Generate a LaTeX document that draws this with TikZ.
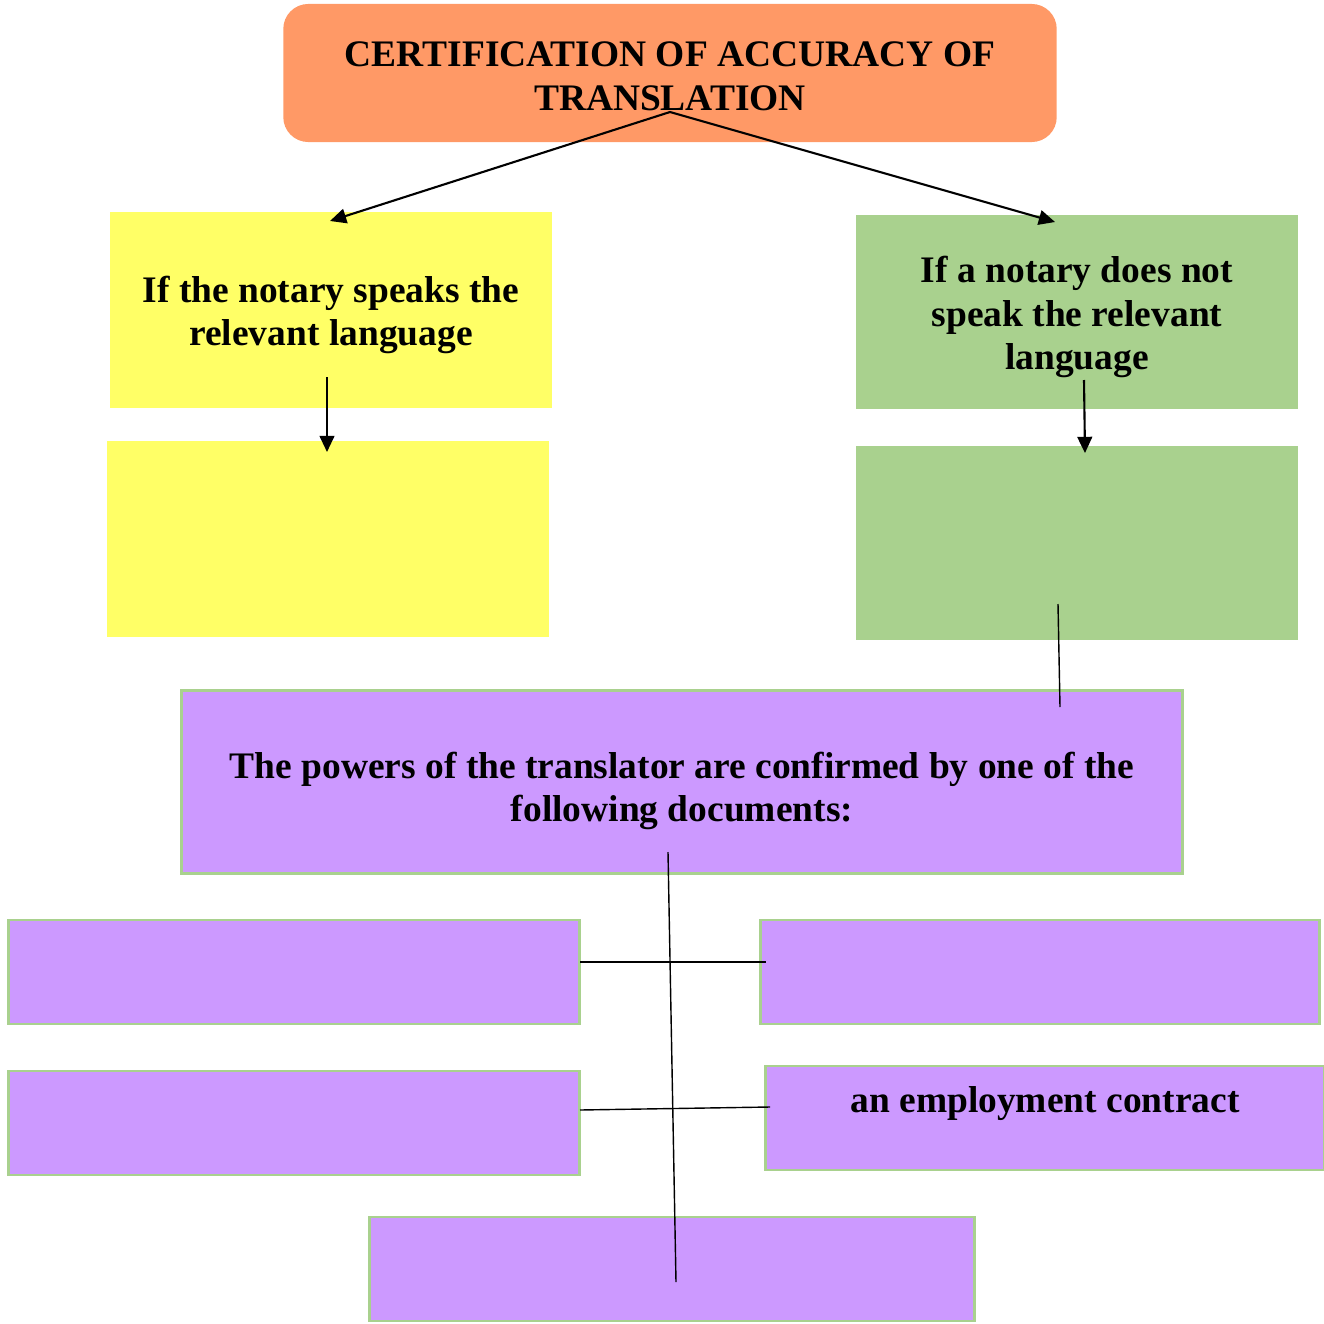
\documentclass[tikz,border=0pt]{standalone}
\usepackage{fontspec}
\setmainfont{Liberation Serif}
\usetikzlibrary{arrows.meta}
\definecolor{orangefill}{RGB}{255,153,102}
\definecolor{yellowfill}{RGB}{255,255,102}
\definecolor{greenfill}{RGB}{169,209,142}
\definecolor{purplefill}{RGB}{204,153,255}
\begin{document}
\begin{tikzpicture}[x=0.01cm, y=-0.01cm,
		txt/.style = {font=\fontsize{10.65}{12.4}\selectfont\bfseries, align=center, inner sep=0pt},
		head/.style = {txt, fill=orangefill, rounded corners=0.25cm, minimum width=7.73cm, minimum height=1.38cm},
		yel/.style = {txt, fill=yellowfill, minimum width=4.41cm, minimum height=1.95cm},
		grn/.style = {txt, fill=greenfill, minimum width=4.41cm, minimum height=1.94cm},
		pur/.style = {txt, fill=purplefill, draw=greenfill, line width=0.8pt, outer sep=0pt},
		arr/.style = {line width=0.6pt, -{Triangle[length=4.6pt, width=4.2pt]}},
		ln/.style = {line width=0.4pt}]
	\useasboundingbox (0,0) rectangle (1324,1324);
	% heading and the two cases
	\node[head, label={[txt, yshift=-0.03cm]center:{CERTIFICATION OF ACCURACY OF\\TRANSLATION}}] (title) at (670,73) {};
	\node[yel, label={[txt, yshift=-0.05cm]center:{If the notary speaks the\\relevant language}}] (y1) at (331,310) {};
	\node[yel] (y2) at (328,539) {};
	\node[grn, label={[txt, yshift=-0.05cm]center:{If a notary does not\\speak the relevant\\language}}] (g1) at (1077,312) {};
	\node[grn] (g2) at (1077,543) {};
	% translator documents
	\node[pur, minimum width=10.0cm, minimum height=1.83cm, label={[txt, yshift=-0.09cm]center:{The powers of the translator are confirmed by one of the\\following documents:}}] (p) at (682,782) {};
	\node[pur, minimum width=5.7cm, minimum height=1.04cm] (l1) at (294,972) {};
	\node[pur, minimum width=5.58cm, minimum height=1.04cm] (r1) at (1040,972) {};
	\node[pur, minimum width=5.7cm, minimum height=1.04cm] (l2) at (294,1123) {};
	\node[pur, minimum width=5.58cm, minimum height=1.04cm, label={[txt, yshift=0.14cm]center:{an employment contract}}] (r2) at (1045,1118) {};
	\node[pur, minimum width=6.04cm, minimum height=1.04cm] (b) at (672,1269) {};
	% connector ends
	\coordinate (t0) at (670,112);
	\coordinate (t1) at (330,221);
	\coordinate (t2) at (1055,222);
	\coordinate (y1s) at (327,377);
	\coordinate (y2n) at (327,452);
	\coordinate (g1s) at (1084,380);
	\coordinate (g2n) at (1085,453);
	\coordinate (g2s) at (1058,604);
	\coordinate (pn) at (1060,707);
	\coordinate (ps) at (668,852);
	\coordinate (bn) at (676,1282);
	\coordinate (l1e) at (580,962);
	\coordinate (r1w) at (766,962);
	\coordinate (l2e) at (580,1110);
	\coordinate (r2w) at (770,1107);
	\draw[arr] (t0) -- (t1);
	\draw[arr] (t0) -- (t2);
	\draw[arr] (y1s) -- (y2n);
	\draw[arr] (g1s) -- (g2n);
	\draw[ln] (g2s) -- (pn);
	\draw[ln] (ps) -- (bn);
	\draw[ln] (l1e) -- (r1w);
	\draw[ln] (l2e) -- (r2w);
\end{tikzpicture}
\end{document}
